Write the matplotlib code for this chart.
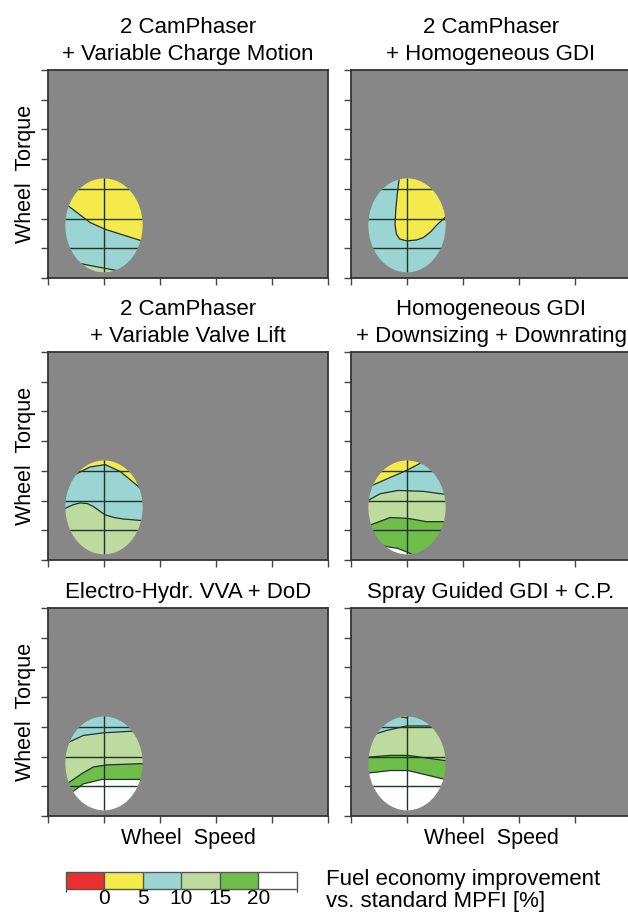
import numpy as np
import matplotlib
matplotlib.use("Agg")
import matplotlib.pyplot as plt
from matplotlib.patches import Ellipse
from matplotlib.colors import ListedColormap, BoundaryNorm
import matplotlib.colorbar as mcolorbar

plt.rcParams['font.family'] = ['Liberation Sans', 'DejaVu Sans']

# ---------------- data ----------------
titles = [
    "2 CamPhaser\n+ Variable Charge Motion",
    "2 CamPhaser\n+ Homogeneous GDI",
    "2 CamPhaser\n+ Variable Valve Lift",
    "Homogeneous GDI\n+ Downsizing + Downrating",
    "Electro-Hydr. VVA + DoD",
    "Spray Guided GDI + C.P.",
]

level_bounds = [-5, 0, 5, 10, 15, 20, 25]
level_ticks = [0, 5, 10, 15, 20]
level_colors = ['#e8312f', '#f5ea4b', '#9ad5d4', '#bddb9f', '#6fbe4a', '#ffffff']
RED, YEL, CYA, LGR, GRN, WHT = level_colors

# operating region (ellipse) in wheel speed / wheel torque units
region_center = (1.0, 1.77)
region_size = (1.38, 3.16)

# band boundaries (top to bottom) per panel: (x, y) lists
p1_bounds = [
    ([0.30, 0.38, 0.75, 1.02, 1.64, 1.75], [2.50, 2.40, 1.87, 1.64, 1.27, 1.22]),
    ([0.30, 0.59, 1.20, 1.70], [0.55, 0.48, 0.26, 0.08]),
]
p1_colors = [YEL, CYA, LGR]

p2_bounds = []
p2_colors = [CYA]
p2_blob_x = [0.87, 0.857, 0.825, 0.80, 0.786, 0.81, 0.87, 0.995, 1.17, 1.29, 1.42, 1.53, 1.68, 1.85, 1.85]
p2_blob_y = [3.60, 3.30, 2.80, 2.30, 1.80, 1.48, 1.31, 1.25, 1.28, 1.36, 1.55, 1.78, 2.04, 2.10, 3.60]

p3_bounds = [
    ([0.30, 0.54, 0.75, 1.02, 1.29, 1.61, 1.75], [2.70, 2.93, 3.13, 3.21, 2.98, 2.48, 2.20]),
    ([0.30, 0.32, 0.45, 0.57, 0.70, 0.81, 0.92, 1.02, 1.18, 1.34, 1.66, 1.75],
     [1.72, 1.75, 1.86, 1.92, 1.90, 1.80, 1.65, 1.52, 1.43, 1.38, 1.33, 1.32]),
]
p3_colors = [YEL, CYA, LGR]

p4_bounds = [
    ([0.30, 0.40, 1.02, 1.28, 1.50], [2.45, 2.53, 3.04, 3.30, 3.60]),
    ([0.30, 0.33, 0.52, 0.84, 1.29, 1.64, 1.75], [2.00, 2.03, 2.23, 2.34, 2.31, 2.22, 2.20]),
    ([0.30, 0.35, 0.70, 1.02, 1.35, 1.64, 1.75], [1.12, 1.18, 1.43, 1.40, 1.29, 1.29, 1.29]),
    ([0.50, 0.64, 0.84, 1.08, 1.30], [0.52, 0.45, 0.39, 0.20, 0.00]),
]
p4_colors = [YEL, CYA, LGR, GRN, WHT]

p5_bounds = [
    ([0.30, 0.38, 0.63, 0.99, 1.46, 1.75], [2.40, 2.49, 2.71, 2.80, 2.85, 2.87]),
    ([0.30, 0.36, 0.60, 0.81, 1.05, 1.64, 1.75], [1.00, 1.11, 1.42, 1.65, 1.72, 1.76, 1.76]),
    ([0.30, 0.44, 0.63, 0.96, 1.58, 1.75], [0.65, 0.82, 1.08, 1.23, 1.23, 1.23]),
]
p5_colors = [CYA, LGR, GRN, WHT]

p6_bounds = [
    ([0.70, 0.90, 1.00, 1.10], [3.60, 3.33, 3.30, 3.60]),
    ([0.30, 0.45, 0.64, 0.99, 1.40, 1.75], [2.65, 2.77, 2.88, 3.03, 3.03, 3.03]),
    ([0.30, 0.31, 0.70, 1.02, 1.66, 1.75], [1.97, 1.98, 2.04, 2.04, 1.87, 1.85]),
    ([0.30, 0.33, 0.70, 1.02, 1.64, 1.75], [1.44, 1.45, 1.53, 1.53, 1.25, 1.22]),
]
p6_colors = [YEL, CYA, LGR, GRN, WHT]

panels = [
    (p1_bounds, p1_colors, None),
    (p2_bounds, p2_colors, (p2_blob_x, p2_blob_y)),
    (p3_bounds, p3_colors, None),
    (p4_bounds, p4_colors, None),
    (p5_bounds, p5_colors, None),
    (p6_bounds, p6_colors, None),
]

x_ticks = [0, 1, 2, 3, 4, 5]
y_ticks = [0, 1, 2, 3, 4, 5, 6, 7]
grid_y = [1, 2, 3]
grid_x = [1]

# ---------------- layout ----------------
W, H = 628, 913
fig = plt.figure(figsize=(W / 100, H / 100), dpi=100)

col_left = [48, 351]
ax_w = 280
row_top = [70, 352, 608]
ax_h = 208

BG = '#878787'
LINE = '#22332a'
TOP_Y, BOT_Y = 4.2, -0.5
TFS = 16
LFS = 15.5

for i, (bounds, colors, blob) in enumerate(panels):
    r, c = divmod(i, 2)
    l = col_left[c] / W
    b = 1 - (row_top[r] + ax_h) / H
    ax = fig.add_axes([l, b, ax_w / W, ax_h / H])
    ax.set_facecolor(BG)
    ax.set_xlim(0, 5)
    ax.set_ylim(0, 7)
    ax.set_xticks(x_ticks)
    ax.set_yticks(y_ticks)
    ax.tick_params(direction='out', length=5, width=1, color='#444444',
                   labelleft=False, labelbottom=False, top=False, right=False)
    for s in ax.spines.values():
        s.set_color('#333333')
        s.set_linewidth(1.3)

    ell = Ellipse(region_center, region_size[0], region_size[1], fc='none', ec='none')
    ax.add_patch(ell)

    # bands
    tops = [([0.2, 1.9], [TOP_Y, TOP_Y])] + bounds
    bots = bounds + [([0.2, 1.9], [BOT_Y, BOT_Y])]
    for (xu, yu), (xl, yl), col in zip(tops, bots, colors):
        px = list(xu) + list(xl)[::-1]
        py = list(yu) + list(yl)[::-1]
        poly = ax.fill(px, py, color=col, lw=0, zorder=2)[0]
        poly.set_clip_path(ell)
    if blob is not None:
        poly = ax.fill(blob[0], blob[1], color=YEL, lw=0, zorder=2.5)[0]
        poly.set_clip_path(ell)
        ln, = ax.plot(blob[0], blob[1], color=LINE, lw=0.9, zorder=3)
        ln.set_clip_path(ell)
    for xs, ys in bounds:
        ln, = ax.plot(xs, ys, color=LINE, lw=0.9, zorder=3)
        ln.set_clip_path(ell)
    for gy in grid_y:
        ln = ax.axhline(gy, color=LINE, lw=1.0, zorder=4)
        ln.set_clip_path(ell)
    for gx in grid_x:
        ln = ax.axvline(gx, color=LINE, lw=1.0, zorder=4)
        ln.set_clip_path(ell)

    ax.set_title(titles[i], fontsize=TFS, pad=7.2, linespacing=1.35)

    if c == 0:
        cy = 1 - (row_top[r] + ax_h / 2) / H
        fig.text(25 / W, cy, "Wheel  Torque", rotation=90, ha='center', va='center', fontsize=LFS)
    if r == 2:
        fig.text((col_left[c] + ax_w / 2) / W, 1 - 838 / H, "Wheel  Speed",
                 ha='center', va='center', fontsize=LFS)

# ---------------- colour legend ----------------
cax = fig.add_axes([66 / W, 1 - 889 / H, (297 - 66) / W, 17 / H])
cmap = ListedColormap(level_colors)
norm = BoundaryNorm(level_bounds, cmap.N)
cb = mcolorbar.ColorbarBase(cax, cmap=cmap, norm=norm, orientation='horizontal',
                            ticks=level_ticks, drawedges=True)
cb.outline.set_edgecolor('#555555')
cb.outline.set_linewidth(1.0)
cb.dividers.set_color('#555555')
cb.dividers.set_linewidth(1.0)
cax.tick_params(length=0, labelsize=15, pad=0)

fig.text(326 / W, 1 - 879 / H, "Fuel economy improvement", ha='left', va='center', fontsize=TFS)
fig.text(326 / W, 1 - 901 / H, "vs. standard MPFI [%]", ha='left', va='center', fontsize=TFS)

fig.savefig("out.png", dpi=100)
